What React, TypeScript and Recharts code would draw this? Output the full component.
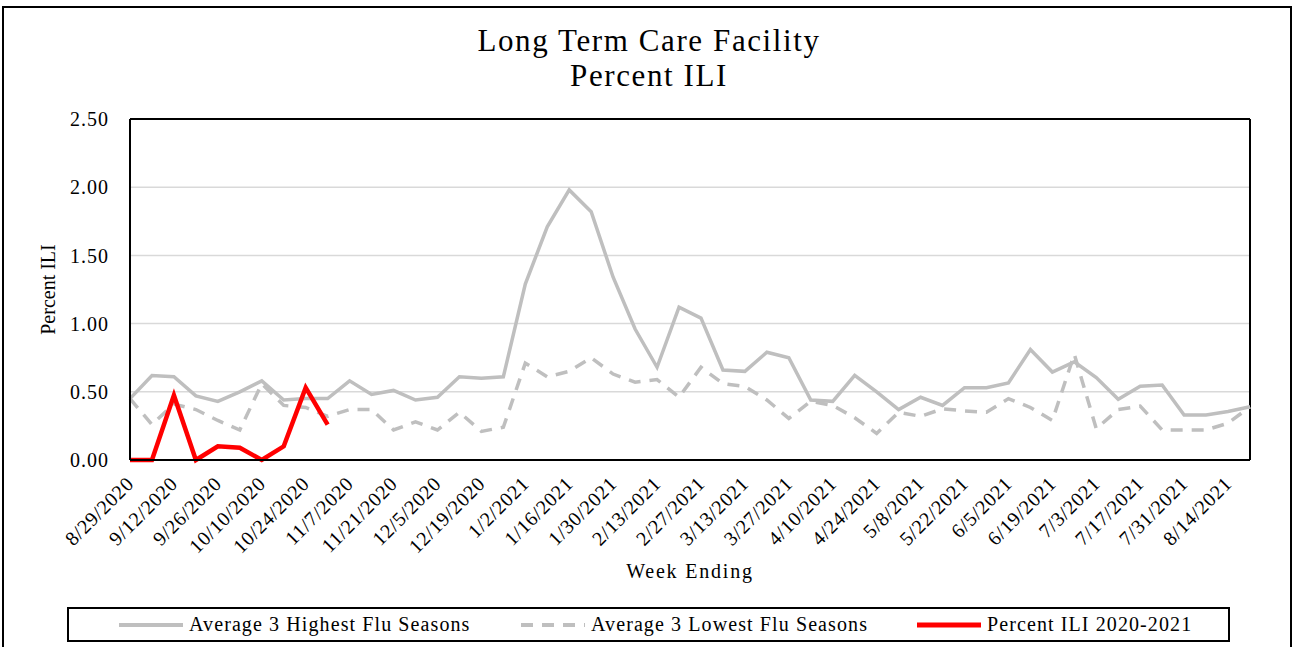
import React from "react";
import {
  LineChart,
  Line,
  XAxis,
  YAxis,
  CartesianGrid,
  ReferenceLine,
} from "recharts";

const weeks = [
  "8/29/2020", "9/5/2020", "9/12/2020", "9/19/2020", "9/26/2020", "10/3/2020",
  "10/10/2020", "10/17/2020", "10/24/2020", "10/31/2020", "11/7/2020", "11/14/2020",
  "11/21/2020", "11/28/2020", "12/5/2020", "12/12/2020", "12/19/2020", "12/26/2020",
  "1/2/2021", "1/9/2021", "1/16/2021", "1/23/2021", "1/30/2021", "2/6/2021",
  "2/13/2021", "2/20/2021", "2/27/2021", "3/6/2021", "3/13/2021", "3/20/2021",
  "3/27/2021", "4/3/2021", "4/10/2021", "4/17/2021", "4/24/2021", "5/1/2021",
  "5/8/2021", "5/15/2021", "5/22/2021", "5/29/2021", "6/5/2021", "6/12/2021",
  "6/19/2021", "6/26/2021", "7/3/2021", "7/10/2021", "7/17/2021", "7/24/2021",
  "7/31/2021", "8/7/2021", "8/14/2021", "8/21/2021",
];

const highest = [
  0.45, 0.62, 0.61, 0.47, 0.43, 0.5, 0.58, 0.44, 0.45, 0.45,
  0.58, 0.48, 0.51, 0.44, 0.46, 0.61, 0.6, 0.61, 1.29, 1.71,
  1.98, 1.82, 1.34, 0.96, 0.68, 1.12, 1.04, 0.66, 0.65, 0.79,
  0.75, 0.44, 0.43, 0.62, 0.5, 0.37, 0.46, 0.4, 0.53, 0.53,
  0.565, 0.81, 0.645, 0.72, 0.605, 0.445, 0.54, 0.55, 0.33, 0.33,
  0.355, 0.39,
];

const lowest = [
  0.45, 0.26, 0.41, 0.37, 0.29, 0.22, 0.56, 0.4, 0.385, 0.32,
  0.37, 0.37, 0.22, 0.28, 0.22, 0.35, 0.21, 0.24, 0.71, 0.61,
  0.65, 0.75, 0.63, 0.57, 0.59, 0.46, 0.68, 0.56, 0.54, 0.44,
  0.305, 0.43, 0.4, 0.31, 0.195, 0.35, 0.32, 0.375, 0.36, 0.35,
  0.45, 0.385, 0.29, 0.775, 0.23, 0.37, 0.395, 0.22, 0.22, 0.22,
  0.27, 0.39,
];

const current = [0, 0, 0.475, 0, 0.1, 0.09, 0, 0.1, 0.53, 0.26];

const yTicks = [0, 0.5, 1, 1.5, 2, 2.5];

const data = weeks.map((w, i) => ({
  week: w,
  high: highest[i],
  low: lowest[i],
  cur: i < current.length ? current[i] : null,
}));

const FONT = "'Liberation Serif', 'Times New Roman', serif";
const GRAY = "#bfbfbf";

const XTick = (props: any) => {
  const { x, y, payload } = props;
  const ax = x + 5;
  const ay = y + 17;
  return (
    <text
      x={ax}
      y={ay}
      transform={`rotate(-45, ${ax}, ${ay})`}
      textAnchor="end"
      fontFamily={FONT}
      fontSize={20}
      letterSpacing={0.7}
      fill="#000"
    >
      {payload.value}
    </text>
  );
};

const legendItems = [
  { label: "Average 3 Highest Flu Seasons", color: GRAY, dash: undefined, width: 4, left: 117 },
  { label: "Average 3 Lowest Flu Seasons", color: GRAY, dash: "12 9", width: 4, left: 519 },
  { label: "Percent ILI 2020-2021", color: "#ff0000", dash: undefined, width: 5, left: 915 },
];

export default function App() {
  return (
    <div
      style={{
        position: "absolute",
        left: 0,
        top: 0,
        width: 1300,
        height: 647,
        overflow: "hidden",
        background: "#fff",
        fontFamily: FONT,
      }}
    >
      <div
        style={{
          position: "absolute",
          left: 2,
          top: 6,
          width: 1290,
          height: 700,
          border: "2px solid #000",
          boxSizing: "border-box",
        }}
      />
      <div
        style={{
          position: "absolute",
          left: 0,
          width: 1300,
          top: 23,
          textAlign: "center",
          fontSize: 31,
          lineHeight: "35px",
          letterSpacing: 1.6,
          color: "#000",
        }}
      >
        <div style={{ marginLeft: -2 }}>Long Term Care Facility</div>
        <div style={{ marginLeft: -2 }}>Percent ILI</div>
      </div>

      <div style={{ position: "absolute", left: 0, top: 0 }}>
        <LineChart
          width={1300}
          height={647}
          data={data}
          margin={{ top: 119, right: 50, left: 40, bottom: 0 }}
        >
          <CartesianGrid vertical={false} stroke="#d9d9d9" strokeWidth={1.5} />
          <XAxis
            dataKey="week"
            interval={1}
            tick={<XTick />}
            tickLine={false}
            axisLine={{ stroke: "#000", strokeWidth: 2 }}
            height={187}
            label={{
              value: "Week Ending",
              position: "insideTop",
              offset: 104,
              fontFamily: FONT,
              fontSize: 20,
              fill: "#000",
              letterSpacing: 1.8,
            }}
          />
          <YAxis
            domain={[0, 2.5]}
            ticks={yTicks}
            tickFormatter={(v: number) => v.toFixed(2)}
            tickLine={false}
            axisLine={{ stroke: "#000", strokeWidth: 2 }}
            tick={{ fontFamily: FONT, fontSize: 20, fill: "#000", letterSpacing: 1 }}
            tickMargin={15}
            width={90}
            label={{
              value: "Percent ILI",
              angle: -90,
              position: "insideLeft",
              offset: 8,
              fontFamily: FONT,
              fontSize: 20,
              fill: "#000",
              style: { textAnchor: "middle" },
            }}
          />
          <ReferenceLine y={2.5} stroke="#000" strokeWidth={2} />
          <ReferenceLine x="8/21/2021" stroke="#000" strokeWidth={2} />
          <Line
            dataKey="high"
            stroke={GRAY}
            strokeWidth={3.5}
            dot={false}
            isAnimationActive={false}
          />
          <Line
            dataKey="low"
            stroke={GRAY}
            strokeWidth={3.5}
            strokeDasharray="12 9"
            dot={false}
            isAnimationActive={false}
          />
          <Line
            dataKey="cur"
            stroke="#ff0000"
            strokeWidth={4.5}
            dot={false}
            connectNulls={false}
            isAnimationActive={false}
          />
        </LineChart>
      </div>

      <div
        style={{
          position: "absolute",
          left: 67,
          top: 607,
          width: 1163,
          height: 35,
          border: "2px solid #000",
          boxSizing: "border-box",
        }}
      >
        {legendItems.map((it) => (
          <div
            key={it.label}
            style={{
              position: "absolute",
              left: it.left - 67,
              top: 0,
              height: 31,
              display: "flex",
              alignItems: "center",
              fontSize: 20,
              letterSpacing: 1.1,
              color: "#000",
              whiteSpace: "nowrap",
            }}
          >
            <svg width={66} height={10} style={{ marginRight: 4 }}>
              <line
                x1={0}
                y1={5}
                x2={64}
                y2={5}
                stroke={it.color}
                strokeWidth={it.width}
                strokeDasharray={it.dash}
              />
            </svg>
            <span>{it.label}</span>
          </div>
        ))}
      </div>
    </div>
  );
}
